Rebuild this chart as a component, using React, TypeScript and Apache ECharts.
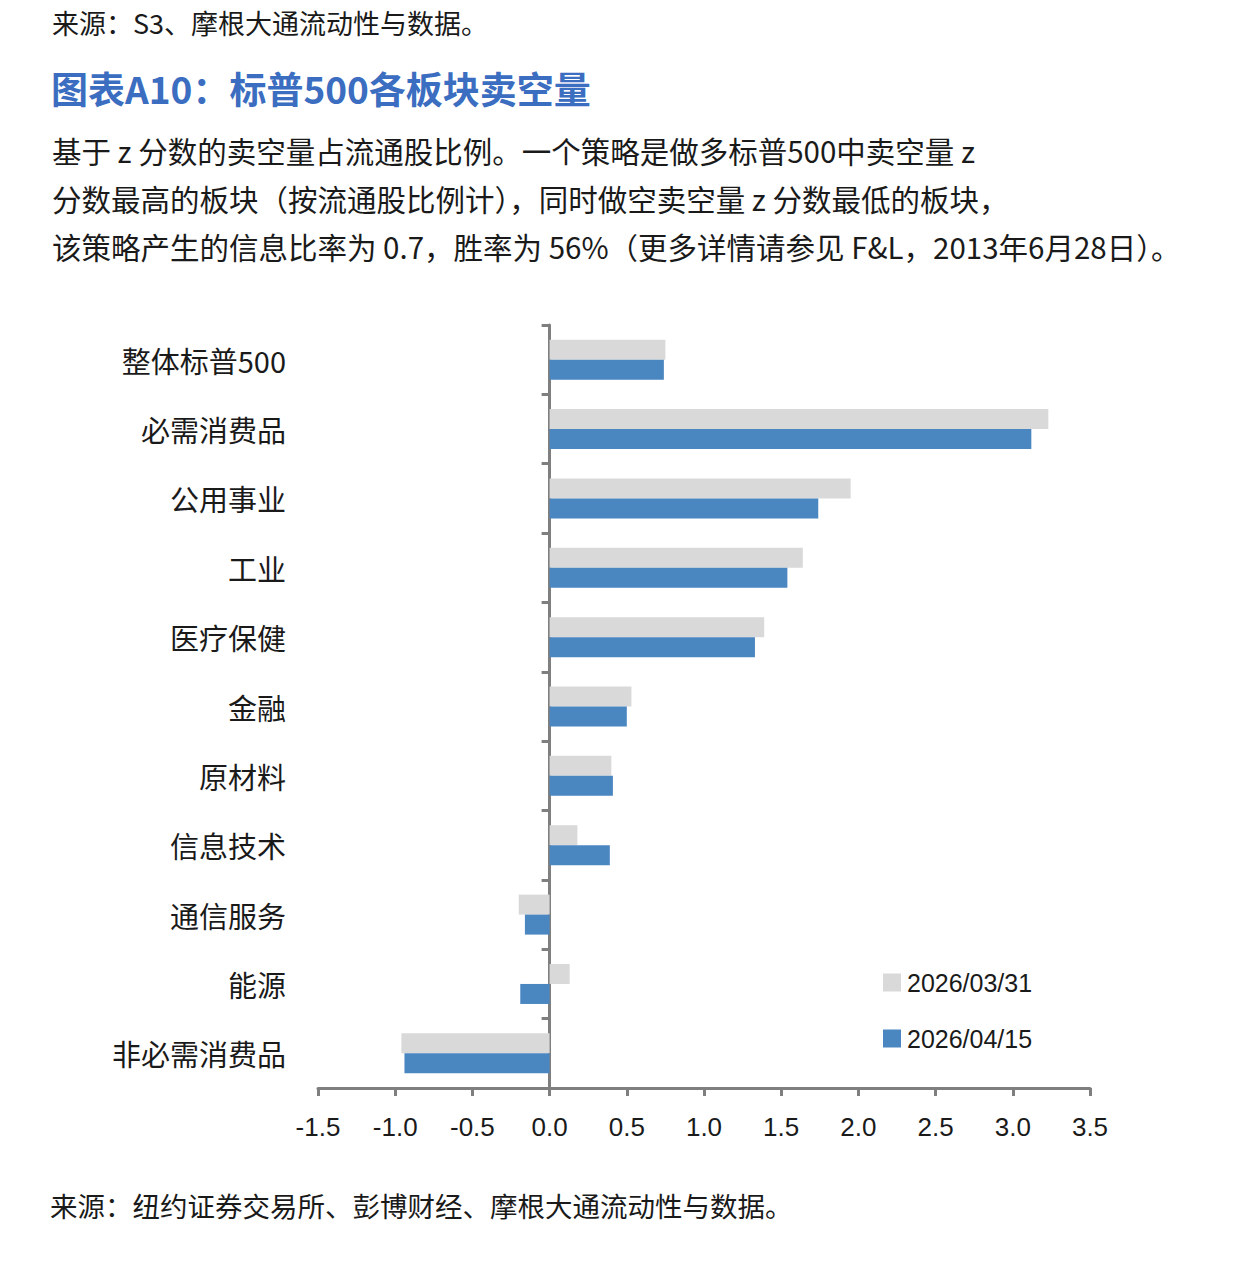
import React, { useEffect, useRef } from "react";
import * as echarts from "echarts";

const categories = [
  "整体标普500",
  "必需消费品",
  "公用事业",
  "工业",
  "医疗保健",
  "金融",
  "原材料",
  "信息技术",
  "通信服务",
  "能源",
  "非必需消费品",
];
const seriesNames = ["2026/03/31", "2026/04/15"];
const valuesMar31 = [0.75, 3.23, 1.95, 1.64, 1.39, 0.53, 0.4, 0.18, -0.2, 0.13, -0.96];
const valuesApr15 = [0.74, 3.12, 1.74, 1.54, 1.33, 0.5, 0.41, 0.39, -0.16, -0.19, -0.94];
const xTicks = { min: -1.5, max: 3.5, interval: 0.5 };

const topSource = "来源：S3、摩根大通流动性与数据。";
const titleText = "图表A10：标普500各板块卖空量";
const paragraph = [
  "基于 z 分数的卖空量占流通股比例。一个策略是做多标普500中卖空量 z",
  "分数最高的板块（按流通股比例计），同时做空卖空量 z 分数最低的板块，",
  "该策略产生的信息比率为 0.7，胜率为 56%（更多详情请参见 F&L，2013年6月28日）。",
];
const footSource = "来源：纽约证券交易所、彭博财经、摩根大通流动性与数据。";

const CJK = '"Noto Sans CJK SC", "Noto Sans", sans-serif';
const NUM = '"Liberation Sans", Arial, sans-serif';
const AXIS_COLOR = "#7f7f7f";

export default function App() {
  const ref = useRef<HTMLDivElement>(null);
  useEffect(() => {
    if (!ref.current) return;
    const chart = echarts.init(ref.current, undefined, { renderer: "svg" });
    chart.setOption({
      animation: false,
      backgroundColor: "#ffffff",
      grid: {
        left: 318,
        right: 157,
        top: 325,
        bottom: 173,
        containLabel: false,
        outerBoundsMode: "none",
      },
      legend: {
        orient: "vertical",
        left: 878,
        top: 965,
        itemWidth: 18,
        itemHeight: 18,
        itemGap: 31,
        icon: "rect",
        textStyle: { fontFamily: NUM, fontSize: 25, color: "#1a1a1a", padding: [0, 0, 0, 1] },
        data: seriesNames,
      },
      xAxis: {
        type: "value",
        min: xTicks.min,
        max: xTicks.max,
        interval: xTicks.interval,
        splitLine: { show: false },
        axisLine: { show: true, lineStyle: { color: AXIS_COLOR, width: 3 } },
        axisTick: { show: true, length: 8, lineStyle: { color: AXIS_COLOR, width: 3 } },
        axisLabel: {
          margin: 26,
          fontFamily: NUM,
          fontSize: 26,
          color: "#1a1a1a",
          formatter: (v: number) => v.toFixed(1),
        },
      },
      yAxis: {
        type: "category",
        inverse: true,
        data: categories,
        axisLine: { show: true, onZero: true, lineStyle: { color: AXIS_COLOR, width: 3 } },
        axisTick: { show: true, length: 8, lineStyle: { color: AXIS_COLOR, width: 3 } },
        axisLabel: {
          margin: 32,
          fontFamily: CJK,
          fontSize: 29,
          color: "#1a1a1a",
        },
      },
      series: [
        {
          name: seriesNames[0],
          type: "bar",
          data: valuesMar31,
          barWidth: 20,
          barGap: "0%",
          itemStyle: { color: "#d9d9d9" },
        },
        {
          name: seriesNames[1],
          type: "bar",
          data: valuesApr15,
          barWidth: 20,
          barGap: "0%",
          itemStyle: { color: "#4a86c0" },
        },
      ],
      graphic: [
        {
          type: "text",
          left: 52,
          top: 9,
          style: { text: topSource, fontFamily: CJK, fontSize: 27, fill: "#1a1a1a" },
        },
        {
          type: "text",
          left: 51,
          top: 69,
          style: { text: titleText, fontFamily: CJK, fontSize: 37, fontWeight: "bold", fill: "#3b6dc0" },
        },
        ...paragraph.map((line, i) => ({
          type: "text",
          left: 52,
          top: 135 + i * 48,
          style: { text: line, fontFamily: CJK, fontSize: 29.5, fill: "#1a1a1a" },
        })),
        {
          type: "text",
          left: 50,
          top: 1191,
          style: { text: footSource, fontFamily: CJK, fontSize: 27.5, fill: "#1a1a1a" },
        },
      ],
    });
    return () => chart.dispose();
  }, []);
  return (
    <div
      ref={ref}
      style={{ position: "absolute", left: 0, top: 0, width: 1247, height: 1261, background: "#fff" }}
    />
  );
}
